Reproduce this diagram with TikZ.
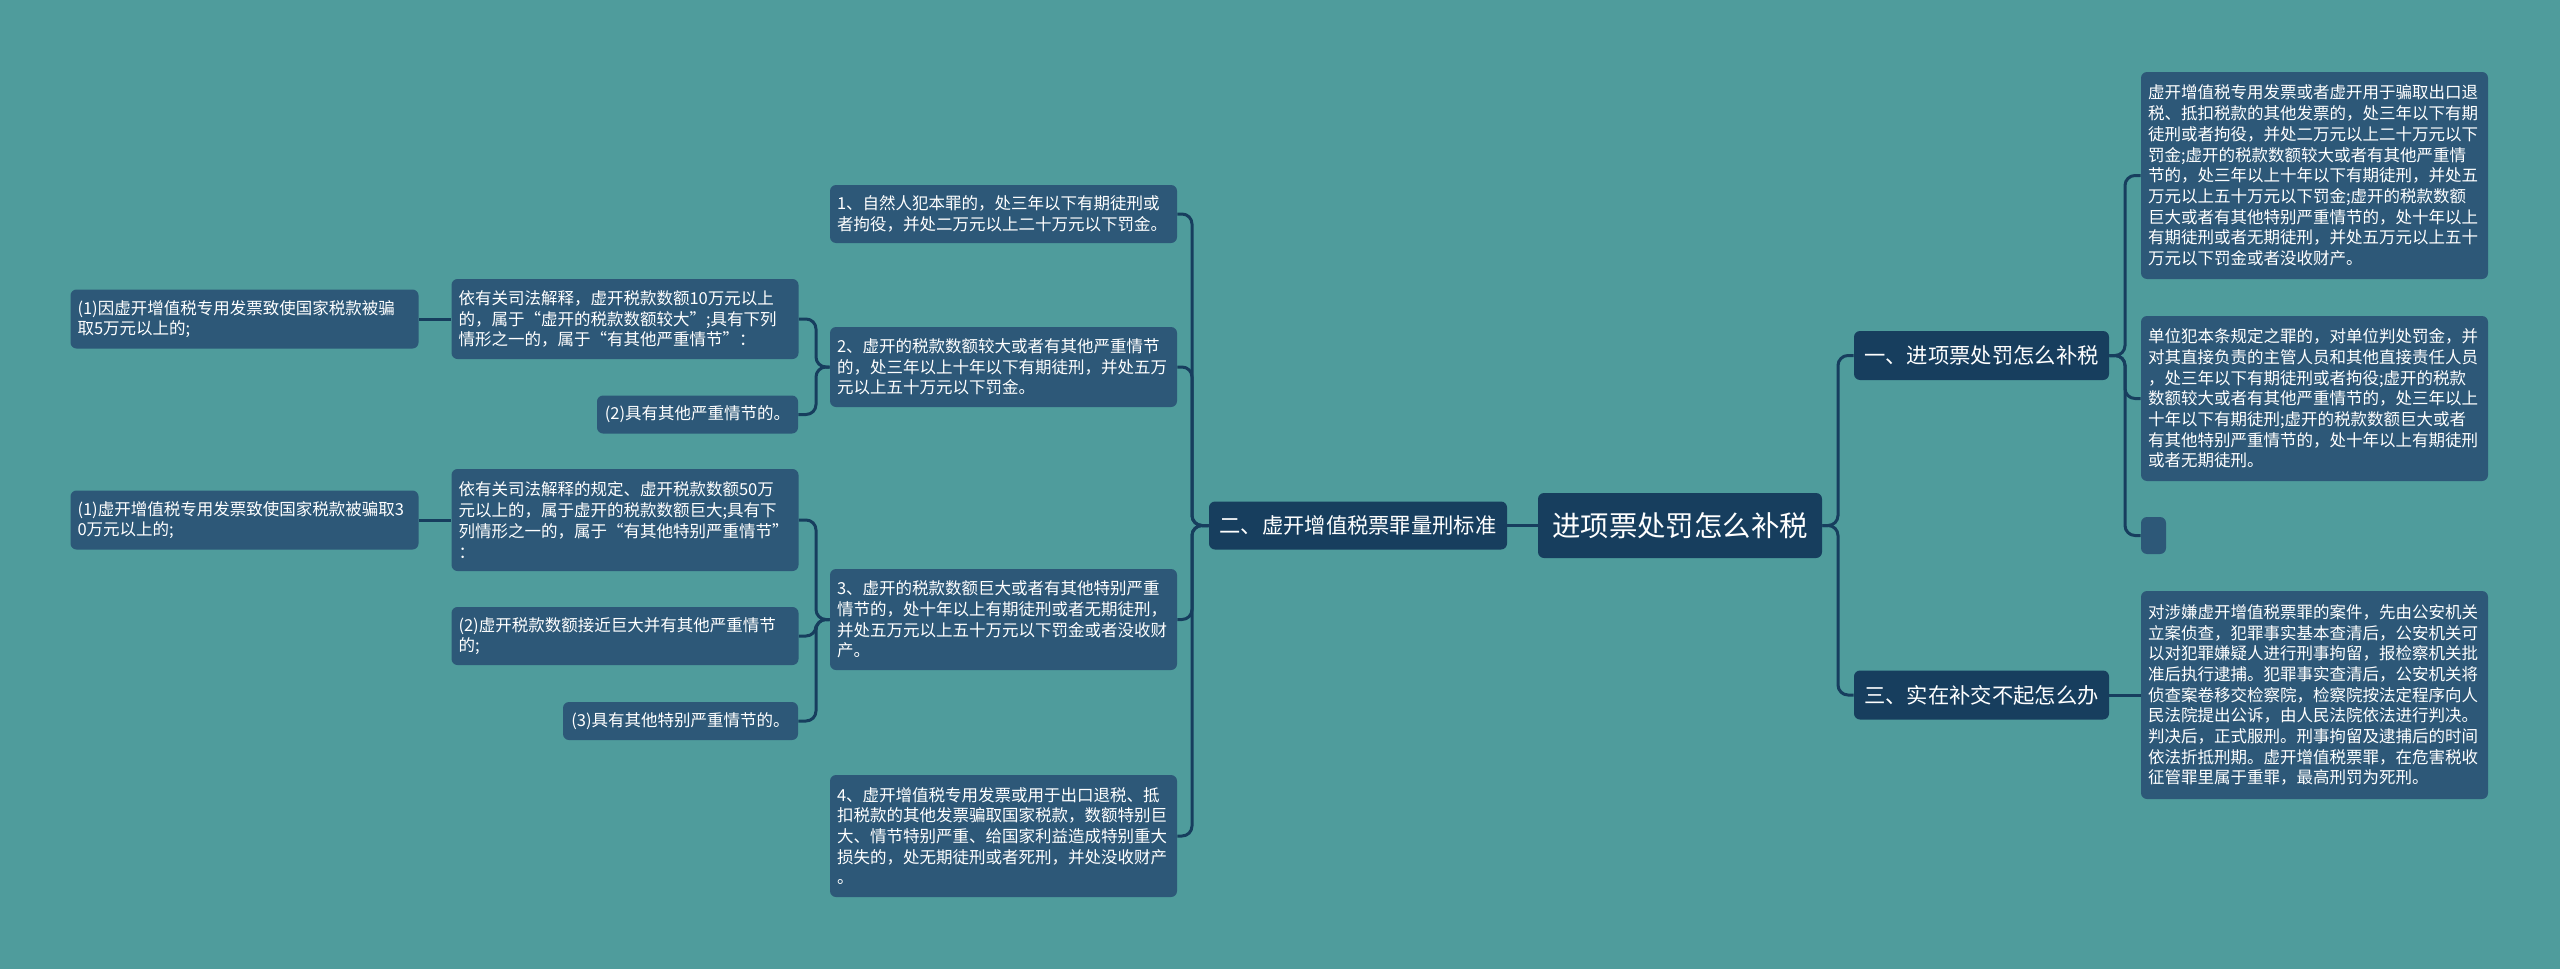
\documentclass[tikz,border=0pt]{standalone}
\usepackage{fontspec}
\setmainfont{Noto Sans CJK SC}
\definecolor{bgc}{HTML}{4F9C9C}
\definecolor{darkc}{HTML}{173E5E}
\definecolor{leafc}{HTML}{2D5878}
\definecolor{linec}{HTML}{173E5E}
\begin{document}
\begin{tikzpicture}[x=0.5pt,y=-0.5pt,
  box/.style={rounded corners=3pt, inner ysep=0pt, inner xsep=3.5pt, text=white},
  leaf/.style={box, fill=leafc, align=left, font=\fontsize{8.25}{10.35}\selectfont},
  lf/.style 2 args={leaf, text width=#1, minimum height=#2},
  lone/.style 2 args={box, fill=leafc, align=center, font=\fontsize{8.25}{10.35}\selectfont, minimum width=#1, minimum height=#2},
  mainbox/.style={box, fill=darkc, align=center, font=\fontsize{10.65}{13}\selectfont, minimum width=#1, minimum height=24.5pt},
  conn/.style={draw=linec, line width=1.5pt, rounded corners=5pt}]
\fill[bgc] (0,0) rectangle (2560,969);
\useasboundingbox (0,0) rectangle (2560,969);

% root and first level
\node[box, fill=darkc, align=center, font=\fontsize{14.2}{17}\selectfont, minimum width=142pt, minimum height=32.5pt] (root) at (1680,525.5) {进项票处罚怎么补税};
\node[mainbox=127.5pt] (L1) at (1981.5,355.5) {一、进项票处罚怎么补税};
\node[mainbox=127.5pt] (L3) at (1981.5,695) {三、实在补交不起怎么办};
\node[mainbox=149pt, minimum height=24pt] (L2) at (1358,525.5) {二、虚开增值税票罪量刑标准};

% right leaves
\node[lf={166.5pt}{103.5pt}] (r1) at (2314.5,175.5) {虚开增值税专用发票或者虚开用于骗取出口退\\
税、抵扣税款的其他发票的，处三年以下有期\\
徒刑或者拘役，并处二万元以上二十万元以下\\
罚金;虚开的税款数额较大或者有其他严重情\\
节的，处三年以上十年以下有期徒刑，并处五\\
万元以上五十万元以下罚金;虚开的税款数额\\
巨大或者有其他特别严重情节的，处十年以上\\
有期徒刑或者无期徒刑，并处五万元以上五十\\
万元以下罚金或者没收财产。};
\node[lf={166.5pt}{82.5pt}] (r2) at (2314.5,398.5) {单位犯本条规定之罪的，对单位判处罚金，并\\
对其直接负责的主管人员和其他直接责任人员\\
，处三年以下有期徒刑或者拘役;虚开的税款\\
数额较大或者有其他严重情节的，处三年以上\\
十年以下有期徒刑;虚开的税款数额巨大或者\\
有其他特别严重情节的，处十年以上有期徒刑\\
或者无期徒刑。};
\node[box, fill=leafc, inner sep=0pt, minimum width=12.5pt, minimum height=18.5pt] (r0) at (2153.5,535.5) {};
\node[lf={166.5pt}{104pt}] (r3) at (2314.5,695) {对涉嫌虚开增值税票罪的案件，先由公安机关\\
立案侦查，犯罪事实基本查清后，公安机关可\\
以对犯罪嫌疑人进行刑事拘留，报检察机关批\\
准后执行逮捕。犯罪事实查清后，公安机关将\\
侦查案卷移交检察院，检察院按法定程序向人\\
民法院提出公诉，由人民法院依法进行判决。\\
判决后，正式服刑。刑事拘留及逮捕后的时间\\
依法折抵刑期。虚开增值税票罪，在危害税收\\
征管罪里属于重罪，最高刑罚为死刑。};

% middle column
\node[lf={166.5pt}{29pt}] (m1) at (1003.5,214) {1、自然人犯本罪的，处三年以下有期徒刑或\\
者拘役，并处二万元以上二十万元以下罚金。};
\node[lf={166.5pt}{40pt}] (m2) at (1003.5,367) {2、虚开的税款数额较大或者有其他严重情节\\
的，处三年以上十年以下有期徒刑，并处五万\\
元以上五十万元以下罚金。};
\node[lf={166.5pt}{50.5pt}] (m3) at (1003.5,619.5) {3、虚开的税款数额巨大或者有其他特别严重\\
情节的，处十年以上有期徒刑或者无期徒刑，\\
并处五万元以上五十万元以下罚金或者没收财\\
产。};
\node[lf={166.5pt}{61pt}] (m4) at (1003.5,836) {4、虚开增值税专用发票或用于出口退税、抵\\
扣税款的其他发票骗取国家税款，数额特别巨\\
大、情节特别严重、给国家利益造成特别重大\\
损失的，处无期徒刑或者死刑，并处没收财产\\
。};

% left columns
\node[lf={166.5pt}{40pt}] (a1) at (625,319) {依有关司法解释，虚开税款数额10万元以上\\
的，属于“虚开的税款数额较大”;具有下列\\
情形之一的，属于“有其他严重情节”：};
\node[lf={167pt}{29.5pt}] (a0) at (244.5,319) {(1)因虚开增值税专用发票致使国家税款被骗\\
取5万元以上的;};
\node[lone={100.5pt}{19pt}] (a2) at (697.5,414.5) {(2)具有其他严重情节的。};
\node[lf={166.5pt}{51pt}] (b1) at (625,520) {依有关司法解释的规定、虚开税款数额50万\\
元以上的，属于虚开的税款数额巨大;具有下\\
列情形之一的，属于“有其他特别严重情节”\\
：};
\node[lf={167pt}{29.5pt}] (b0) at (244.5,520) {(1)虚开增值税专用发票致使国家税款被骗取3\\
0万元以上的;};
\node[lf={166.5pt}{29pt}] (b2) at (625,636) {(2)虚开税款数额接近巨大并有其他严重情节\\
的;};
\node[lone={117.5pt}{19pt}] (b3) at (680.5,721) {(3)具有其他特别严重情节的。};

% trunk coordinates
\coordinate (tR) at (1838,525.5);
\coordinate (t1) at (2125,355.5);
\coordinate (tL) at (1192,525.5);
\coordinate (tA) at (816,367);
\coordinate (tB) at (816,619.5);

% connectors
\draw[conn] (root.east) -- (tR) |- (L1.west);
\draw[conn] (root.east) -- (tR) |- (L3.west);
\draw[conn] (L1.east) -- (t1) |- (r1.west);
\draw[conn] (L1.east) -- (t1) |- (r2.west);
\draw[conn] (L1.east) -- (t1) |- (r0.west);
\draw[conn] (L3.east) -- (r3.west |- L3.east);
\draw[conn] (root.west) -- (L2.east);
\draw[conn] (L2.west) -- (tL) |- (m1.east);
\draw[conn] (L2.west) -- (tL) |- (m2.east);
\draw[conn] (L2.west) -- (tL) |- (m3.east);
\draw[conn] (L2.west) -- (tL) |- (m4.east);
\draw[conn] (m2.west) -- (tA) |- (a1.east);
\draw[conn] (m2.west) -- (tA) |- (a2.east);
\draw[conn] (a1.west) -- (a0.east);
\draw[conn] (m3.west) -- (tB) |- (b1.east);
\draw[conn] (m3.west) -- (tB) |- (b2.east);
\draw[conn] (m3.west) -- (tB) |- (b3.east);
\draw[conn] (b1.west) -- (b0.east);
\end{tikzpicture}
\end{document}
